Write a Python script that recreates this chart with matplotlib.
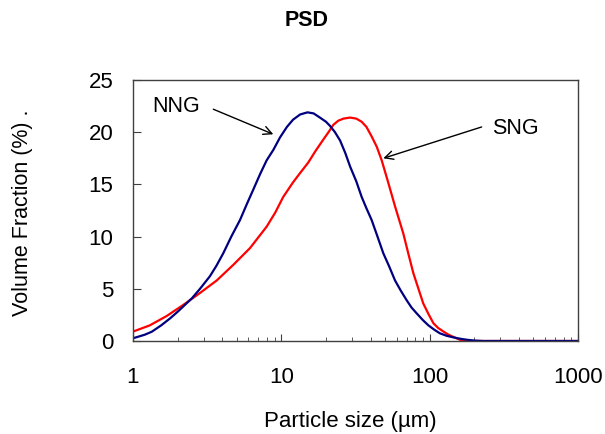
import matplotlib.pyplot as plt
import numpy as np
from matplotlib.ticker import LogLocator, NullFormatter, FixedLocator

plt.rcParams['font.family'] = ['Liberation Sans', 'DejaVu Sans']

# NNG curve (particle size in um, volume fraction %)
nng_size = [1.0, 1.2, 1.34, 1.55, 1.78, 2.0, 2.18, 2.5, 2.83, 3.3, 3.65, 4.06,
            4.6, 5.27, 5.85, 6.47, 7.2, 7.96, 8.83, 9.8, 10.9, 12.0, 13.4, 15.0,
            16.5, 18.2, 20.0, 21.3, 23.0, 24.9, 27.0, 29.1, 32.0, 34.8, 37.5,
            40.6, 44.5, 48.7, 53.5, 58.4, 64.0, 70.0, 75.5, 81.7, 90.0, 98.0,
            107, 117, 130, 144, 160, 178, 200, 230, 1000]
nng_frac = [0.26, 0.6, 0.89, 1.5, 2.17, 2.8, 3.3, 4.1, 5.0, 6.2, 7.2, 8.4,
            10.0, 11.6, 13.1, 14.5, 16.0, 17.3, 18.3, 19.5, 20.5, 21.2, 21.7, 21.9,
            21.8, 21.4, 21.0, 20.6, 20.0, 19.2, 18.0, 16.7, 15.3, 13.8, 12.7,
            11.6, 10.0, 8.4, 7.1, 5.8, 4.8, 3.9, 3.2, 2.65, 2.0, 1.5,
            1.1, 0.74, 0.5, 0.35, 0.22, 0.12, 0.04, 0.0, 0.0]

# SNG curve
sng_size = [1.0, 1.30, 1.69, 2.18, 2.83, 3.67, 4.75, 6.15, 7.96, 9.1, 10.3, 12.0,
            13.4, 15.2, 17.0, 19.2, 20.8, 22.4, 24.2, 26.2, 29.1, 32.0, 34.8,
            37.5, 40.6, 44.0, 47.5, 52.5, 58.4, 66.4, 72.0, 77.6, 84.0, 90.5,
            98.0, 106, 114, 124, 134, 144, 155, 164, 180, 1000]
sng_frac = [0.9, 1.5, 2.4, 3.45, 4.6, 5.8, 7.3, 8.9, 10.95, 12.3, 13.8, 15.2,
            16.1, 17.1, 18.2, 19.3, 20.0, 20.7, 21.1, 21.3, 21.4, 21.3, 21.0,
            20.5, 19.6, 18.6, 17.3, 15.2, 12.9, 10.3, 8.3, 6.5, 5.0, 3.6,
            2.6, 1.7, 1.25, 0.9, 0.6, 0.4, 0.2, 0.05, 0.0, 0.0]

fig = plt.figure(figsize=(6.05, 4.34), dpi=100)
ax = fig.add_axes([0.2198, 0.2143, 0.7356, 0.6014])

ax.plot(sng_size, sng_frac, color='#ff0000', lw=1.6)
ax.plot(nng_size, nng_frac, color='#000080', lw=1.6)

ax.set_xscale('log')
ax.set_xlim(1, 1000)
ax.set_ylim(0, 25)
ax.set_yticks([0, 5, 10, 15, 20, 25])
ax.xaxis.set_major_locator(FixedLocator([1, 10, 100, 1000]))
ax.set_xticklabels(['1', '10', '100', '1000'])
ax.xaxis.set_minor_locator(LogLocator(base=10, subs=np.arange(2, 10)))
ax.xaxis.set_minor_formatter(NullFormatter())

for s in ax.spines.values():
    s.set_color('#404040')
    s.set_linewidth(1.0)
ax.tick_params(axis='both', which='both', direction='in', color='#404040',
               labelsize=16)
ax.tick_params(axis='x', which='major', length=5, pad=19)
ax.tick_params(axis='x', which='minor', length=3)
ax.tick_params(axis='y', which='major', length=6, pad=14)
ax.tick_params(axis='y', which='minor', length=0)
ax.tick_params(axis='x', top=False)
ax.tick_params(axis='y', right=False)

# title and axis labels
fig.text(306.5 / 605, 1 - 21 / 434, 'PSD', fontsize=15.5, fontweight='bold',
         ha='center', va='center')
fig.text(350 / 605, 1 - 421 / 434, 'Particle size (µm)', fontsize=16,
         ha='center', va='center')
fig.text(23 / 605, 1 - 213 / 434, 'Volume Fraction (%) .', fontsize=15.5,
         ha='center', va='center', rotation=90)

arrow = dict(arrowstyle='->,head_length=0.6,head_width=0.3', color='black',
             lw=1.0, shrinkA=0, shrinkB=0)
ax.text(1.94, 22.5, 'NNG', fontsize=15.5, ha='center', va='center')
ax.annotate('', xy=(8.83, 19.8), xytext=(3.48, 22.2), arrowprops=arrow)
ax.text(377, 20.4, 'SNG', fontsize=15.5, ha='center', va='center')
ax.annotate('', xy=(48.7, 17.5), xytext=(224, 20.5), arrowprops=arrow)

fig.savefig('out.png', dpi=100)
